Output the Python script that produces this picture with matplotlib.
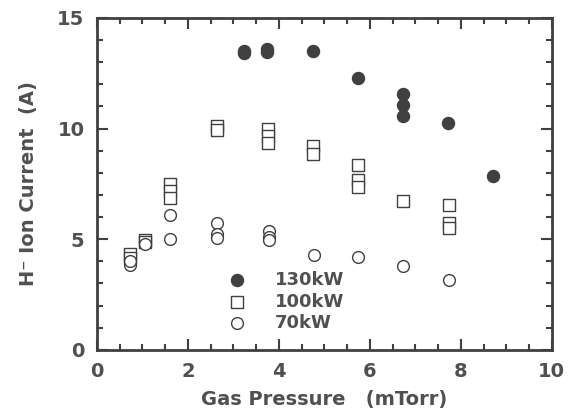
import matplotlib
matplotlib.use('Agg')
import matplotlib.pyplot as plt
from matplotlib.ticker import MultipleLocator

# 130 kW (filled circles)
p130 = [3.23, 3.23, 3.75, 3.75, 4.75, 5.74, 6.72, 6.72, 6.72, 7.71, 8.70]
i130 = [13.40, 13.50, 13.57, 13.47, 13.50, 12.26, 11.58, 11.04, 10.56, 10.23, 7.84]

# 100 kW (open squares)
p100 = [0.73, 0.73, 1.06, 1.06, 1.61, 1.61, 1.61, 2.65, 2.65,
        3.76, 3.76, 3.76, 4.76, 4.76, 5.75, 5.75, 5.75, 6.74, 7.73, 7.73, 7.73]
i100 = [4.35, 4.15, 4.98, 4.85, 7.50, 7.16, 6.86, 10.10, 9.93,
        9.98, 9.68, 9.35, 9.20, 8.87, 8.34, 7.69, 7.35, 6.74, 6.53, 5.73, 5.52]

# 70 kW (open circles)
p70 = [0.73, 0.73, 1.06, 1.61, 1.61, 2.65, 2.65, 2.65,
       3.78, 3.78, 3.78, 4.78, 5.75, 6.74, 7.73]
i70 = [3.85, 4.0, 4.80, 6.08, 5.02, 5.73, 5.25, 5.05,
       5.35, 5.10, 4.98, 4.27, 4.21, 3.80, 3.14]

INK = '#404040'
TXT = '#505050'

plt.rcParams['font.family'] = ['DejaVu Sans']
plt.rcParams['font.weight'] = 'bold'

fig = plt.figure(figsize=(5.73, 4.15), dpi=100)
ax = fig.add_axes([0.169, 0.157, 0.794, 0.80])

ax.scatter(p130, i130, s=75, marker='o', facecolor=INK, edgecolor=INK,
           linewidth=1.0, label='130kW', zorder=3)
ax.scatter(p100, i100, s=65, marker='s', facecolor='white', edgecolor=INK,
           linewidth=1.0, label='100kW', zorder=3)
ax.scatter(p70, i70, s=72, marker='o', facecolor='white', edgecolor=INK,
           linewidth=1.0, label='70kW', zorder=3)

ax.set_xlim(0, 10)
ax.set_ylim(0, 15)
ax.xaxis.set_major_locator(MultipleLocator(2))
ax.xaxis.set_minor_locator(MultipleLocator(0.5))
ax.yaxis.set_major_locator(MultipleLocator(5))
ax.yaxis.set_minor_locator(MultipleLocator(1))
ax.tick_params(which='both', direction='in', top=True, right=True,
               color=INK, width=1.5, labelsize=14, labelcolor=TXT)
ax.tick_params(axis='y', pad=9)
ax.tick_params(axis='x', pad=9)
ax.tick_params(which='major', length=8)
ax.tick_params(which='minor', length=4)
for sp in ax.spines.values():
    sp.set_linewidth(2.0)
    sp.set_color(INK)

ax.set_xlabel('Gas Pressure   (mTorr)', fontsize=14, fontweight='bold',
              color=TXT, labelpad=6)
ax.set_ylabel('H\u207b Ion Current  (A)', fontsize=14, fontweight='bold',
              color=TXT, labelpad=14)

leg = ax.legend(loc='lower left', bbox_to_anchor=(0.24, 0.015), frameon=False,
                fontsize=13, handletextpad=1.1, labelspacing=0.2,
                borderpad=0.2)
for t in leg.get_texts():
    t.set_color(TXT)
    t.set_fontweight('bold')

fig.savefig('out.png', dpi=100, facecolor='white')
